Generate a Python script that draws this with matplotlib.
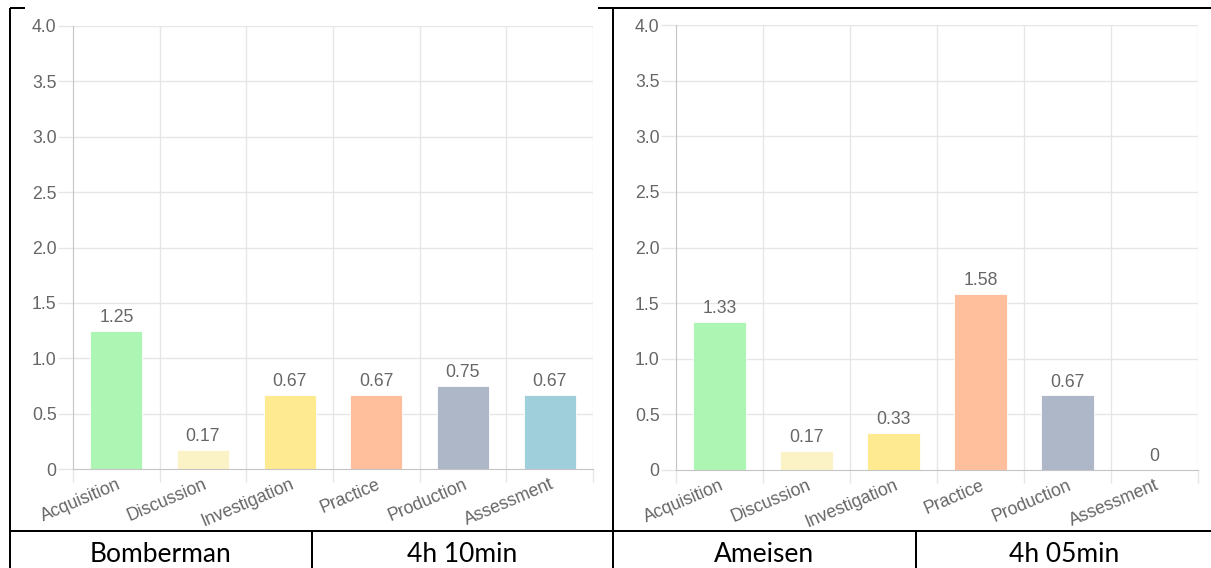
import matplotlib
matplotlib.use("Agg")
import matplotlib.pyplot as plt
import numpy as np

# Learning-activity categories shared by both sessions
categories = ["Acquisition", "Discussion", "Investigation", "Practice", "Production", "Assessment"]
bar_colors = ["#acf5b3", "#fbf3c6", "#feea90", "#ffbe9c", "#adb7c8", "#9fcfdb"]

# Hours per activity type for each game session
bomberman_values = [1.25, 0.17, 0.67, 0.67, 0.75, 0.67]
ameisen_values = [1.33, 0.17, 0.33, 1.58, 0.67, 0]

y_ticks = [0, 0.5, 1.0, 1.5, 2.0, 2.5, 3.0, 3.5, 4.0]
y_tick_labels = ["0", "0.5", "1.0", "1.5", "2.0", "2.5", "3.0", "3.5", "4.0"]

# Row below the charts: game name and total duration
session_names = ["Bomberman", "Ameisen"]
session_durations = ["4h 10min", "4h 05min"]

W, H = 1211, 568
DPI = 100
fig = plt.figure(figsize=(W / DPI, H / DPI), dpi=DPI)
fig.patch.set_facecolor("white")

PX = 72.0 / DPI  # points per pixel
TEXT_GRAY = "#666666"
GRID = "#e6e6e6"
AXIS = "#c4c4c4"
CHART_FONT = "Liberation Sans"
FS = 12.7


def px_axes(x0, x1, y_top, y_bottom):
    return fig.add_axes([x0 / W, 1 - y_bottom / H, (x1 - x0) / W, (y_bottom - y_top) / H])


def draw_chart(ax, values):
    n = len(categories)
    x = np.arange(n)
    bars = ax.bar(x, values, width=0.6, color=bar_colors, edgecolor="white",
                  linewidth=0.6, zorder=3)
    ax.set_xlim(-0.5, n - 0.5)
    ax.set_ylim(0, 4.0)

    # horizontal grid with tick marks extending left of the axis
    ax.set_yticks(y_ticks)
    ax.set_yticklabels(y_tick_labels, fontsize=FS, color=TEXT_GRAY, family=CHART_FONT)
    ax.tick_params(axis="y", length=15 * PX, width=1, color=GRID, pad=1)
    for yv in y_ticks[1:]:
        ax.axhline(yv, color=GRID, linewidth=1, zorder=1)

    # vertical grid at category boundaries, extending below the baseline
    edges = np.arange(n + 1) - 0.5
    ax.set_xticks(edges, minor=True)
    ax.tick_params(axis="x", which="minor", length=13 * PX, width=1, color=GRID)
    for xe in edges[1:]:
        ax.axvline(xe, color=GRID, linewidth=1, zorder=1)

    ax.set_xticks(x)
    ax.set_xticklabels(categories, fontsize=FS, color=TEXT_GRAY, family=CHART_FONT,
                       rotation=23, ha="right", va="top", rotation_mode="anchor")
    ax.tick_params(axis="x", which="major", length=0, pad=5)

    for side in ("top", "right"):
        ax.spines[side].set_visible(False)
    ax.spines["left"].set_color(AXIS)
    ax.spines["bottom"].set_color(AXIS)
    ax.spines["left"].set_zorder(4)
    ax.spines["bottom"].set_zorder(4)

    for rect, v in zip(bars, values):
        label = f"{v:.2f}" if v else "0"
        ax.annotate(label, (rect.get_x() + rect.get_width() / 2, v),
                    xytext=(0, 3.5), textcoords="offset points",
                    ha="center", va="bottom", fontsize=FS, color=TEXT_GRAY,
                    family=CHART_FONT, zorder=5)


ax_left = px_axes(73, 593, 26, 469)
draw_chart(ax_left, bomberman_values)

ax_right = px_axes(676, 1198, 25, 470)
draw_chart(ax_right, ameisen_values)

# Table frame and the caption row
frame = fig.add_axes([0, 0, 1, 1], zorder=10)
frame.set_xlim(0, W)
frame.set_ylim(H, 0)
frame.axis("off")
frame.patch.set_alpha(0)

lw = 2 * PX
kw = dict(color="black", linewidth=lw, solid_capstyle="butt")
frame.plot([10, 25], [8, 8], **kw)
frame.plot([598, W], [8, 8], **kw)
frame.plot([10, 10], [8, H], **kw)
frame.plot([613, 613], [8, H], **kw)
frame.plot([10, W], [531, 531], **kw)
frame.plot([312, 312], [531, H], **kw)
frame.plot([916, 916], [531, H], **kw)

cell_centers = [(161, 462), (764, 1064)]
for (c_name, c_dur), name, dur in zip(cell_centers, session_names, session_durations):
    frame.text(c_name, 562, name, ha="center", va="baseline", fontsize=19,
               family="Lato", color="black")
    frame.text(c_dur, 562, dur, ha="center", va="baseline", fontsize=19,
               family="Lato", color="black")

fig.savefig("out.png", dpi=DPI)
